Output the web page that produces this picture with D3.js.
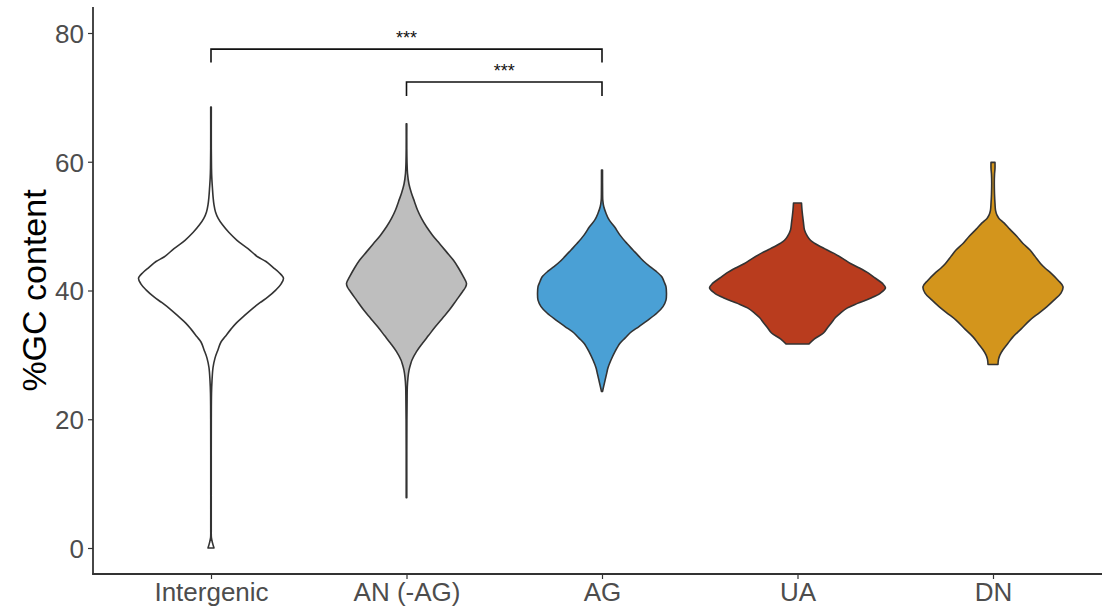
<!DOCTYPE html>
<html>
<head>
<meta charset="utf-8">
<script src="https://cdn.jsdelivr.net/npm/d3@7"></script>
<style>
  html, body { margin: 0; padding: 0; background: #fff; }
  svg { display: block; font-family: "Liberation Sans", Arial, Helvetica, sans-serif; }
</style>
</head>
<body>
<svg id="chart" width="1102" height="612"></svg>
<script>
// Region categories and fill colours
const categories = ["Intergenic", "AN (-AG)", "AG", "UA", "DN"];
const fills = ["#ffffff", "#bebebe", "#4aa0d5", "#b93c1e", "#d3951c"];

// Kernel density profiles of %GC per region: [gc, density]
const intergenicDensity = [
  [0, 0.0030], [0.8, 0.0015], [1.6, 0.0004], [3, 0.00025], [10, 0.00025], [20, 0.0003],
  [24, 0.0005], [26, 0.0010], [28, 0.0020], [29.5, 0.0040], [30.8, 0.0070], [32, 0.0100],
  [32.8, 0.0140], [34, 0.0200], [34.9, 0.0250], [35.9, 0.0320], [37, 0.0400], [38.1, 0.0490],
  [39, 0.0570], [40.1, 0.0650], [41, 0.0700], [41.9, 0.0725], [42.8, 0.0680], [43.6, 0.0620],
  [44.5, 0.0550], [45.2, 0.0470], [46.5, 0.0370], [47.8, 0.0260], [49, 0.0180], [50.2, 0.0115],
  [51.2, 0.0072], [52.2, 0.0045], [53.3, 0.0030], [54.5, 0.0021], [56, 0.0014], [57.5, 0.0008],
  [59, 0.0005], [62, 0.0003], [68.5, 0.0003]
];
const anDensity = [
  [7.8, 0.0003], [15, 0.0003], [20, 0.0004], [23, 0.0006], [25, 0.0008], [26.5, 0.0015],
  [27.6, 0.0025], [28.5, 0.0040], [29.2, 0.0055], [30.5, 0.0100], [31.8, 0.0160], [33, 0.0220],
  [34.4, 0.0290], [35.7, 0.0360], [37, 0.0430], [38.5, 0.0500], [39.8, 0.0560], [40.5, 0.0590],
  [41.1, 0.0600], [42.1, 0.0570], [43.5, 0.0520], [44.7, 0.0470], [46, 0.0400], [47.3, 0.0330],
  [48.6, 0.0260], [49.9, 0.0200], [51.2, 0.0150], [52.5, 0.0110], [53.8, 0.0080], [55.1, 0.0050],
  [56.5, 0.0025], [58.2, 0.0010], [60, 0.0005], [62, 0.0003], [65.9, 0.0003]
];
const agDensity = [
  [24.3, 0.0005], [25, 0.0015], [26, 0.0030], [27, 0.0045], [28, 0.0060], [29.2, 0.0090],
  [30.5, 0.0130], [31.8, 0.0180], [32.6, 0.0230], [33.4, 0.0280], [34.4, 0.0370], [35.4, 0.0460],
  [36.5, 0.0550], [37.5, 0.0610], [38.5, 0.0640], [39.5, 0.0645], [40.6, 0.0640], [41.4, 0.0620],
  [42.1, 0.0600], [43, 0.0540], [43.7, 0.0480], [44.5, 0.0420], [45.3, 0.0370], [46.3, 0.0310],
  [47.3, 0.0250], [48.6, 0.0180], [49.9, 0.0125], [51, 0.0070], [52, 0.0040], [53, 0.0018],
  [54, 0.0008], [55, 0.0006], [58.7, 0.0005]
];
const uaDensity = [
  [31.7, 0.0115], [32.5, 0.0170], [33.4, 0.0260], [34.2, 0.0300], [35, 0.0340], [35.8, 0.0380],
  [36.5, 0.0430], [37.3, 0.0500], [38, 0.0600], [38.8, 0.0730], [39.6, 0.0830], [40.4, 0.0880],
  [41.1, 0.0850], [41.9, 0.0780], [42.7, 0.0710], [43.5, 0.0620], [44.2, 0.0530], [45, 0.0450],
  [45.8, 0.0360], [46.5, 0.0270], [47.3, 0.0175], [47.8, 0.0130], [48.4, 0.0100], [49.4, 0.0070],
  [50.5, 0.0060], [51.5, 0.0052], [52.5, 0.0045], [53.6, 0.0040]
];
const dnDensity = [
  [28.5, 0.0050], [29.3, 0.0055], [30, 0.0070], [30.8, 0.0100], [31.8, 0.0150], [32.8, 0.0200],
  [34, 0.0280], [35.4, 0.0370], [36.5, 0.0460], [37.5, 0.0540], [38.5, 0.0610], [39.6, 0.0680],
  [40.6, 0.0700], [41.6, 0.0650], [42.7, 0.0580], [43.5, 0.0520], [44.2, 0.0475], [45.3, 0.0420],
  [46.3, 0.0370], [47.3, 0.0300], [48.4, 0.0240], [49.5, 0.0170], [50.5, 0.0110], [51.2, 0.0060],
  [51.7, 0.0040], [52.5, 0.0025], [53.5, 0.0020], [55, 0.0015], [56.7, 0.0013], [58, 0.0015],
  [59, 0.0020], [59.9, 0.0020]
];
const densities = [intergenicDensity, anDensity, agDensity, uaDensity, dnDensity];

// y-axis ticks
const yTicks = [0, 20, 40, 60, 80];

// Pairwise comparisons: [from, to, bracket level (%GC), tip bottom (%GC), label]
const comparisons = [
  ["Intergenic", "AG", 77.5, 75.4, "***"],
  ["AN (-AG)", "AG", 72.4, 70.2, "***"]
];

const svg = d3.select("#chart");
const panel = { left: 93, right: 1102, top: 7, bottom: 574 };

const x = d3.scalePoint().domain(categories)
  .range([211, 993]);
const step = x.step();

const y = d3.scaleLinear().domain([0, 80]).range([548, 33]);

// width scale: widest violin takes 90% of the slot (area scaling)
const maxDens = d3.max(densities, d => d3.max(d, p => p[1]));
const w = d3.scaleLinear().domain([0, maxDens]).range([0, step * 0.45]);

// violins
categories.forEach((cat, i) => {
  const cx = x(cat);
  const area = d3.area()
    .y(p => y(p[0]))
    .x0(p => cx - w(p[1]))
    .x1(p => cx + w(p[1]))
    .curve(d3.curveCatmullRom.alpha(0.5));
  svg.append("path")
    .attr("d", area(densities[i]))
    .attr("fill", fills[i])
    .attr("stroke", "#333333")
    .attr("stroke-width", 1.6)
    .attr("stroke-linejoin", "round");
});

// axes
const yAxis = d3.axisLeft(y).tickValues(yTicks).tickSize(5).tickPadding(4);
const gy = svg.append("g").attr("transform", `translate(${panel.left},0)`).call(yAxis);
gy.select(".domain").remove();
gy.selectAll(".tick line").attr("stroke", "#333333").attr("stroke-width", 1.2);
gy.selectAll(".tick text").attr("fill", "#4d4d4d").style("font-size", "26px")
  .attr("dy", "0.36em");

const xAxis = d3.axisBottom(x).tickSize(5).tickPadding(3);
const gx = svg.append("g").attr("transform", `translate(0,${panel.bottom})`).call(xAxis);
gx.select(".domain").remove();
gx.selectAll(".tick line").attr("stroke", "#333333").attr("stroke-width", 1.2);
gx.selectAll(".tick text").attr("fill", "#4d4d4d").style("font-size", "26px")
  .attr("dy", "0.74em");

// axis lines
svg.append("line")
  .attr("x1", panel.left).attr("x2", panel.left)
  .attr("y1", panel.top).attr("y2", panel.bottom + 0.8)
  .attr("stroke", "#333333").attr("stroke-width", 1.8);
svg.append("line")
  .attr("x1", panel.left - 0.8).attr("x2", panel.right)
  .attr("y1", panel.bottom).attr("y2", panel.bottom)
  .attr("stroke", "#333333").attr("stroke-width", 1.8);

// y title
svg.append("text")
  .attr("transform", `translate(46,${y(40)}) rotate(-90)`)
  .attr("text-anchor", "middle")
  .attr("fill", "#000")
  .style("font-size", "34px")
  .text("%GC content");

// significance brackets
comparisons.forEach(([a, b, level, tip, label]) => {
  const x1 = x(a), x2 = x(b);
  svg.append("path")
    .attr("d", d3.line()([[x1, y(tip)], [x1, y(level)], [x2, y(level)], [x2, y(tip)]]))
    .attr("fill", "none")
    .attr("stroke", "#111")
    .attr("stroke-width", 1.6);
  svg.append("text")
    .attr("x", (x1 + x2) / 2)
    .attr("y", y(level) - 5)
    .attr("text-anchor", "middle")
    .attr("fill", "#111")
    .style("font-size", "18px")
    .text(label);
});
</script>
</body>
</html>
